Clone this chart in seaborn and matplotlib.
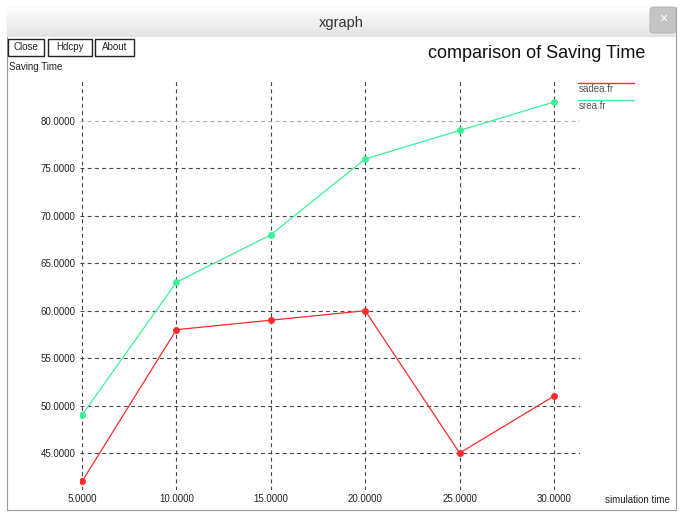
import numpy as np
import pandas as pd
import matplotlib.pyplot as plt
from matplotlib.patches import Rectangle, FancyBboxPatch
from matplotlib.lines import Line2D
import seaborn as sns

# ---------------- DATA ----------------
sim_time = [5, 10, 15, 20, 25, 30]
sadea = [42, 58, 59, 60, 45, 51]
srea = [49, 63, 68, 76, 79, 82]
series_names = ["sadea.fr", "srea.fr"]
series_colors = ["#ff2a2a", "#3af296"]
y_ticks = [45, 50, 55, 60, 65, 70, 75, 80]

df = pd.DataFrame({
    "time": sim_time * 2,
    "value": sadea + srea,
    "series": [series_names[0]] * len(sim_time) + [series_names[1]] * len(sim_time),
})

# ---------------- FIGURE ----------------
sns.set_style("white")
plt.rcParams["font.family"] = ["Liberation Sans", "DejaVu Sans"]

W, H = 681, 517
fig = plt.figure(figsize=(W / 100, H / 100), dpi=100)

def px(x, y):
    return x / W, 1 - y / H

# window frame (behind everything)
fig.patches.append(Rectangle(px(7, 510), (676 - 7) / W, (510 - 7) / H,
                             transform=fig.transFigure, facecolor="white",
                             edgecolor="#9a9a9a", lw=0.8, zorder=-10))
# title bar gradient
grad = np.linspace(0.99, 0.89, 40).reshape(-1, 1)
tb = fig.add_axes([7 / W, 1 - 37 / H, (676 - 7) / W, 30 / H], zorder=1)
tb.imshow(grad, aspect="auto", cmap="gray", vmin=0, vmax=1, extent=[0, 1, 0, 1])
tb.set_axis_off()
fig.text(*px(341, 23), "xgraph", ha="center", va="center", fontsize=10.5, color="#333333", zorder=5)
# close button
fig.patches.append(FancyBboxPatch(px(650, 33), 26 / W, 26 / H, boxstyle="round,pad=0,rounding_size=0.006",
                                  transform=fig.transFigure, facecolor="#c4c4c4",
                                  edgecolor="#b0b0b0", lw=0.6, zorder=4))
fig.text(*px(663, 19), "×", ha="center", va="center", fontsize=10, color="white", zorder=5)

# buttons
for label, x0, x1 in [("Close", 8, 44), ("Hdcpy", 48, 92), ("About", 95, 134)]:
    fig.patches.append(Rectangle(px(x0, 56), (x1 - x0) / W, 17 / H, transform=fig.transFigure,
                                 facecolor="white", edgecolor="#222222", lw=1.0, zorder=3))
    fig.text(*px((x0 + x1) / 2, 47.5), label, ha="center", va="center", fontsize=7, color="#222222")

fig.text(*px(9, 67), "Saving Time", ha="left", va="center", fontsize=7, color="#222222")
fig.text(*px(645, 53), "comparison of Saving Time", ha="right", va="center",
         fontsize=13, fontweight="medium", color="#111111")

# ---------------- PLOT ----------------
ax = fig.add_axes([80 / W, 1 - 490 / H, 500 / W, 410 / H], zorder=2)
ax.patch.set_alpha(0)
sns.lineplot(data=df, x="time", y="value", hue="series", palette=series_colors,
             marker="o", markersize=5, markeredgewidth=0, linewidth=0.9,
             legend=False, ax=ax, zorder=3)

ax.set_xlim(4.894, 31.377)
ax.set_ylim(41.1, 84.32)
ax.set_xticks(sim_time)
ax.set_xticklabels([f"{v:.4f}" for v in sim_time], fontsize=7, color="#222222")
ax.set_yticks(y_ticks)
ax.set_yticklabels([f"{v:.4f}" for v in y_ticks], fontsize=7, color="#222222")
ax.tick_params(length=0, pad=3)
ax.set_xlabel("")
ax.set_ylabel("")
for s in ax.spines.values():
    s.set_visible(False)
ax.grid(True, color="#444444", linestyle=(0, (3.5, 3)), linewidth=0.8, zorder=1)
# top gridline (80) drawn lighter as in the reference
ax.get_ygridlines()[-1].set_color("#aaaaaa")
ax.set_axisbelow(True)

fig.text(*px(605, 500), "simulation time", ha="left", va="center", fontsize=7, color="#222222")

# legend (xgraph style)
for i, (name, col) in enumerate(zip(series_names, series_colors)):
    y = 83 + i * 17
    fig.lines.append(Line2D([578 / W, 634 / W], [1 - y / H, 1 - y / H],
                            transform=fig.transFigure, color=col, lw=1.0))
    fig.text(*px(579, y + 6), name, ha="left", va="center", fontsize=7, color="#555555")

fig.savefig("out.png", dpi=100)
